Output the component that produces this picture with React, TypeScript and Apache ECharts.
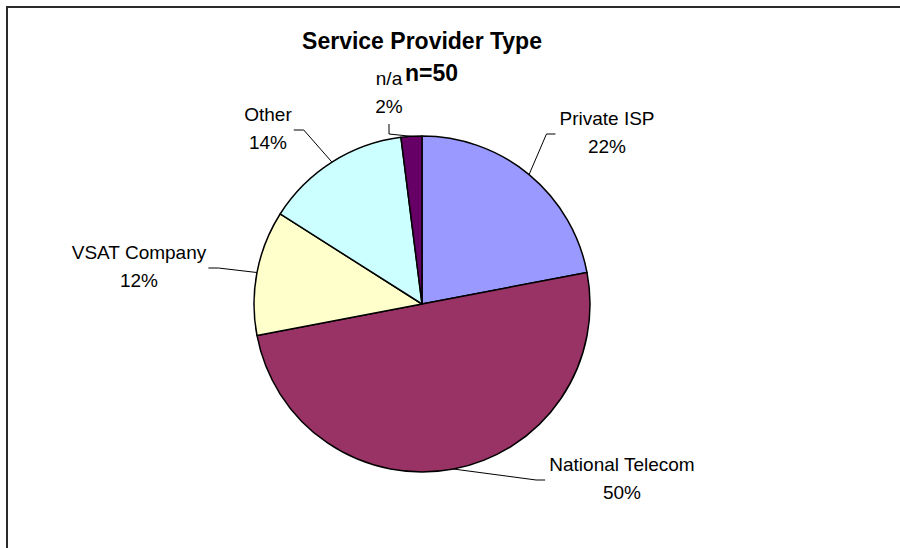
import React, { useEffect, useRef } from "react";
import * as echarts from "echarts";

const categories = ["Private ISP", "National Telecom", "VSAT Company", "Other", "n/a"];
const counts = [11, 25, 6, 7, 1];
const colors = ["#9999FF", "#993366", "#FFFFCC", "#CCFFFF", "#660066"];
const titleText = "Service Provider Type";
const subtitleText = "n=50";

// label block centres (layout only)
const labelPos: { x: number; y: number; side: "left" | "right" | "bottom" }[] = [
  { x: 607, y: 132, side: "left" },
  { x: 622, y: 478, side: "left" },
  { x: 139, y: 266, side: "right" },
  { x: 268, y: 128, side: "right" },
  { x: 389, y: 92, side: "bottom" },
];

const FONT = "'Liberation Sans', Arial, Helvetica, sans-serif";

export default function App() {
  const ref = useRef<HTMLDivElement>(null);
  useEffect(() => {
    if (!ref.current) return;
    const chart = echarts.init(ref.current, undefined, { renderer: "svg" });
    const data = categories.map((name, i) => ({
      name,
      value: counts[i],
      itemStyle: { color: colors[i] },
    }));
    chart.setOption({
      animation: false,
      backgroundColor: "#ffffff",
      graphic: [
        {
          type: "rect",
          shape: { x: 7, y: 7, width: 920, height: 580 },
          style: { fill: "none", stroke: "#2b2b2b", lineWidth: 2 },
          silent: true,
        },
        {
          type: "text",
          x: 422,
          y: 41,
          style: {
            text: titleText,
            font: `bold 23px ${FONT}`,
            fill: "#000",
            textAlign: "center",
            textVerticalAlign: "middle",
          },
        },
        {
          type: "text",
          x: 405,
          y: 73,
          style: {
            text: subtitleText,
            font: `bold 23px ${FONT}`,
            fill: "#000",
            textAlign: "left",
            textVerticalAlign: "middle",
          },
        },
      ],
      series: [
        {
          type: "pie",
          center: [422, 304],
          radius: 168,
          startAngle: 90,
          clockwise: true,
          avoidLabelOverlap: false,
          data,
          itemStyle: { borderColor: "#000", borderWidth: 1.5 },
          label: {
            show: true,
            formatter: "{b}\n{d}%",
            color: "#000",
            fontFamily: FONT,
            fontSize: 19,
            lineHeight: 28,
            align: "center",
          },
          labelLine: {
            show: true,
            length: 20,
            length2: 10,
            lineStyle: { color: "#000", width: 1 },
          },
          percentPrecision: 0,
          labelLayout: (p: any) => {
            const pos = labelPos[p.dataIndex];
            const w = p.labelRect.width;
            const h = p.labelRect.height;
            const anchor = p.labelLinePoints ? p.labelLinePoints[0] : [pos.x, pos.y];
            let end: number[];
            let bend: number[];
            if (pos.side === "left") {
              end = [pos.x - w / 2 - 4, pos.y + 2];
              bend = [end[0] - 9, end[1]];
            } else if (pos.side === "right") {
              end = [pos.x + w / 2 + 2, pos.y + 2];
              bend = [end[0] + 10, end[1]];
            } else {
              end = [pos.x, pos.y + h / 2 + 4];
              bend = [pos.x, end[1] + 10];
            }
            return {
              x: pos.x,
              y: pos.y,
              align: "center",
              verticalAlign: "middle",
              labelLinePoints: [anchor, bend, end],
            };
          },
        },
      ],
    });
    return () => chart.dispose();
  }, []);
  return (
    <div
      ref={ref}
      style={{ position: "fixed", left: 0, top: 0, width: 900, height: 548 }}
    />
  );
}
